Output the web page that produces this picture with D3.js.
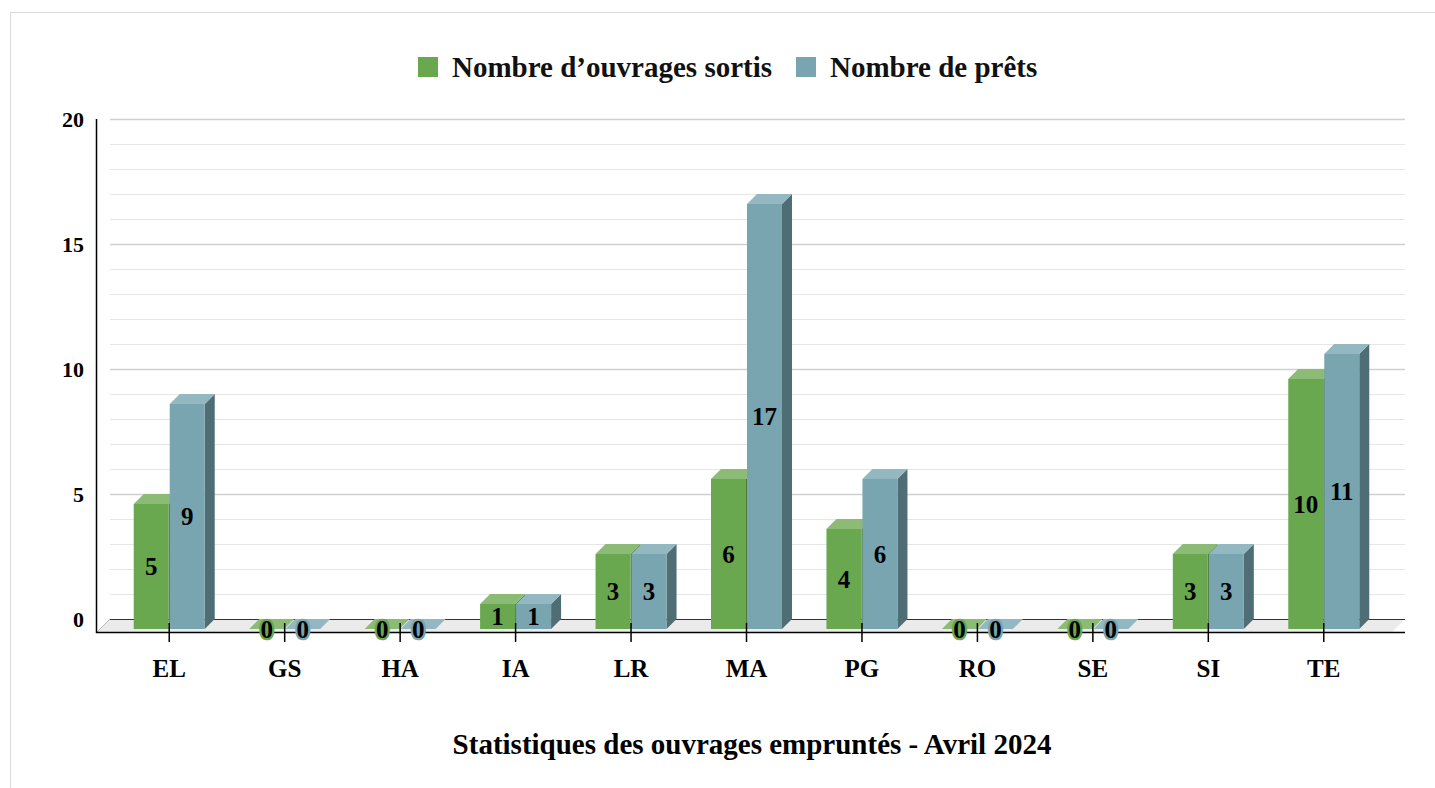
<!DOCTYPE html>
<html><head><meta charset="utf-8">
<script src="https://cdn.jsdelivr.net/npm/d3@7"></script>
<style>body{margin:0;background:#fff}svg{display:block}text{font-family:"Liberation Serif","Times New Roman",serif;font-weight:bold}</style>
</head><body>
<script>
const categories = ["EL","GS","HA","IA","LR","MA","PG","RO","SE","SI","TE"];
const seriesNames = ["Nombre d’ouvrages sortis","Nombre de prêts"];
const sortis = [5,0,0,1,3,6,4,0,0,3,10];
const prets = [9,0,0,1,3,17,6,0,0,3,11];
const yTicks = [0,5,10,15,20];
const title = "Statistiques des ouvrages empruntés - Avril 2024";

const colors = [
  {front:"#6aa84f", top:"#8bbb74", side:"#4b7a37"},
  {front:"#78a5b0", top:"#93b8c1", side:"#4e6d75"}
];
const W = 1435, H = 788, D = 10;
const svg = d3.select("body").append("svg").attr("width", W).attr("height", H);

svg.append("rect").attr("x",10.5).attr("y",12.5).attr("width",1440).attr("height",800)
  .attr("fill","#fff").attr("stroke","#d9d9d9");

const y = d3.scaleLinear().domain([0,20]).range([619,119]);
const x0 = d3.scaleBand().domain(categories).range([111.5,1381.5]);
const x1 = d3.scaleBand().domain([0,1]).range([-35.5,35.5]).paddingInner(0.028);

// gridlines
const gl = d3.range(1,21);
svg.append("g").selectAll("line").data(gl).join("line")
  .attr("x1",110).attr("x2",1405)
  .attr("y1",d=>y(d)+0.5).attr("y2",d=>y(d)+0.5)
  .attr("stroke",d=>d%5===0?"#d0d0d0":"#e6e6e6")
  .attr("stroke-width",d=>d%5===0?1.6:1.2);

// floor
const fy0 = y(0), fy1 = y(0)+13;
svg.append("polygon")
  .attr("points",[[110,fy0],[1405,fy0],[1392,fy1],[97,fy1]].join(" "))
  .attr("fill","#ebebeb");
svg.append("line").attr("x1",110).attr("x2",1405).attr("y1",fy0+0.5).attr("y2",fy0+0.5)
  .attr("stroke","#333").attr("stroke-width",1.2);
svg.append("line").attr("x1",110).attr("x2",97).attr("y1",fy0).attr("y2",fy1)
  .attr("stroke","#bbb").attr("stroke-width",1);

// y axis
svg.append("line").attr("x1",96.5).attr("x2",96.5).attr("y1",119).attr("y2",fy1+1)
  .attr("stroke","#000").attr("stroke-width",1.5);
const yAxis = svg.append("g").attr("transform","translate(84,0)")
  .call(d3.axisLeft(y).tickValues(yTicks).tickSize(0).tickPadding(0));
yAxis.select(".domain").remove();
yAxis.selectAll("text").attr("font-size",22).attr("fill","#000")
  .style("font-family",'"Liberation Serif","Times New Roman",serif').style("font-weight","bold");

// bars
const data = categories.map((c,i)=>({c, vals:[sortis[i],prets[i]]}));
const gBars = svg.append("g");
data.forEach(d=>{
  const cx = x0(d.c) + x0.bandwidth()/2;
  d.vals.forEach((v,s)=>{
    const xl = cx + x1(s), w = x1.bandwidth();
    const yb = y(v), ybf = y(v)+D, yz = y(0);
    const g = gBars.append("g");
    g.append("polygon").attr("points",[[xl+w,ybf],[xl+w+D,yb],[xl+w+D,yz],[xl+w,yz+D]].join(" "))
      .attr("fill",colors[s].side);
    g.append("polygon").attr("points",[[xl,ybf],[xl+w,ybf],[xl+w+D,yb],[xl+D,yb]].join(" "))
      .attr("fill",colors[s].top);
    if (v>0) g.append("rect").attr("x",xl).attr("y",ybf).attr("width",w).attr("height",yz-yb)
      .attr("fill",colors[s].front);
  });
});

// x axis
const xAxisG = svg.append("g").attr("transform",`translate(0,${fy1})`)
  .call(d3.axisBottom(x0).tickSize(10).tickPadding(0));
xAxisG.select(".domain").remove();
xAxisG.selectAll(".tick line").attr("y1",-9).attr("y2",10).attr("stroke","#000").attr("stroke-width",1.5);
xAxisG.selectAll(".tick text").attr("y",45).attr("dy",0).attr("font-size",25).attr("fill","#000")
  .style("font-family",'"Liberation Serif","Times New Roman",serif').style("font-weight","bold");
svg.append("line").attr("x1",96).attr("x2",1405).attr("y1",fy1+0.5).attr("y2",fy1+0.5)
  .attr("stroke","#000").attr("stroke-width",1.5);

// value labels
data.forEach(d=>{
  const cx = x0(d.c) + x0.bandwidth()/2;
  d.vals.forEach((v,s)=>{
    const xl = cx + x1(s), w = x1.bandwidth();
    const yc = (y(v)+D + y(0)+D)/2;
    svg.append("text").attr("x",xl+w/2).attr("y",yc).attr("dy","0.35em")
      .attr("text-anchor","middle").attr("font-size",25).attr("fill","#000")
      .attr("stroke",colors[s].front).attr("stroke-width",4.5).attr("stroke-linejoin","round")
      .style("paint-order","stroke").text(v);
  });
});

// legend
const legX = [418, 796];
seriesNames.forEach((n,i)=>{
  svg.append("rect").attr("x",legX[i]).attr("y",57).attr("width",20).attr("height",20).attr("fill",colors[i].front);
  svg.append("text").attr("x",legX[i]+34).attr("y",77).attr("font-size",29).attr("fill","#111").text(n);
});

// title
svg.append("text").attr("x",752).attr("y",754).attr("text-anchor","middle")
  .attr("font-size",29).attr("fill","#000").text(title);
</script>
</body></html>
